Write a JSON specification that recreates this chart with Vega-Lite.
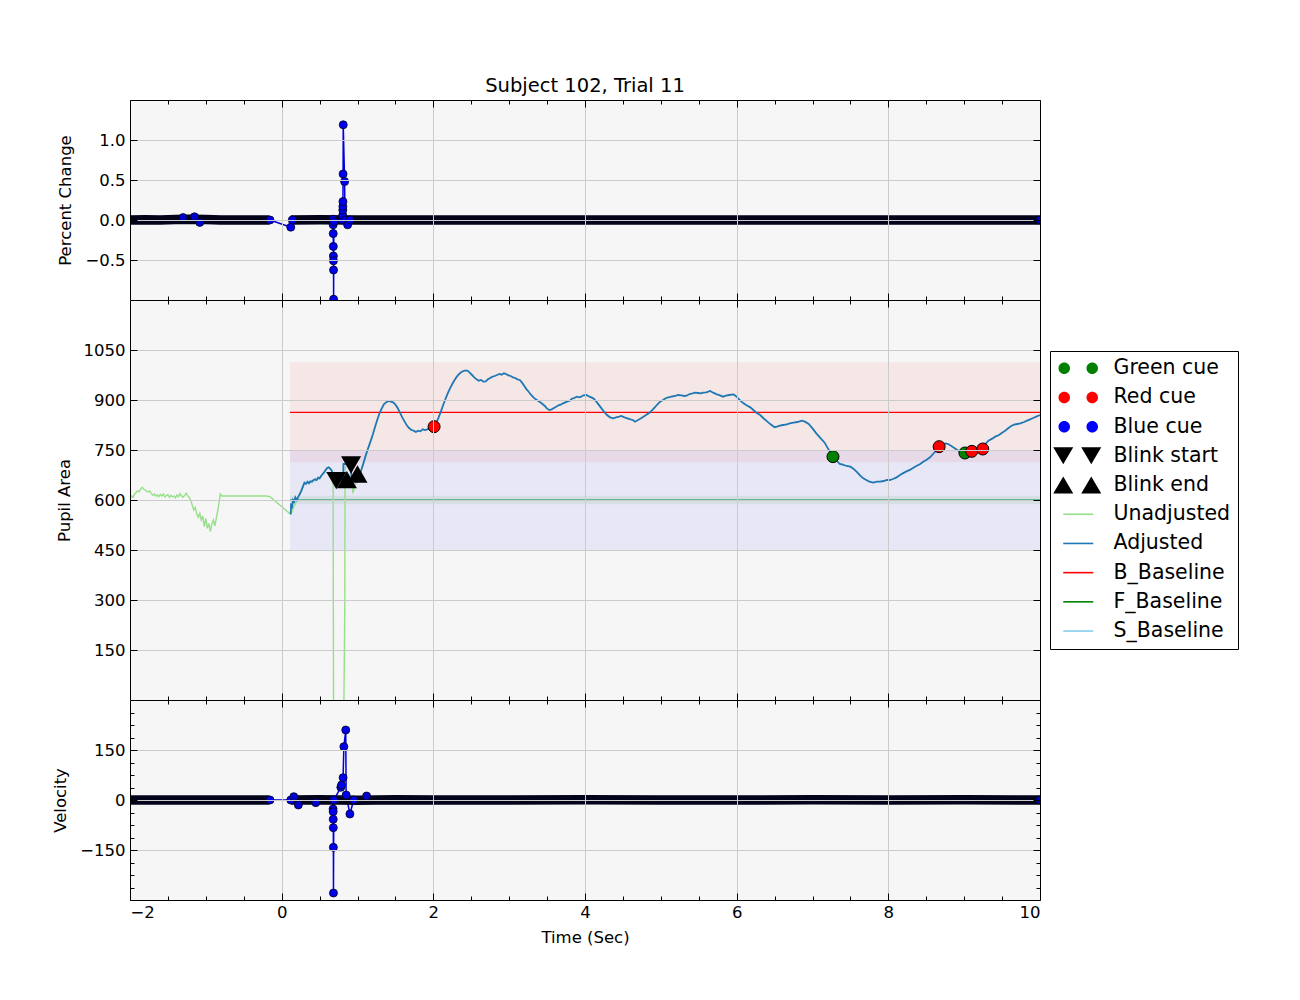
{
  "$schema": "https://vega.github.io/schema/vega-lite/v6.json",
  "padding": {"left": 52, "top": 76, "right": 5, "bottom": 5},
  "background": "white",
  "spacing": 0,
  "bounds": "flush",
  "config": {
    "font": "DejaVu Sans",
    "view": {"stroke": null, "fill": "#f6f6f6"},
    "axis": {"labelFont": "DejaVu Sans", "labelFontSize": 16.5, "labelColor": "#000", "titleFont": "DejaVu Sans", "titleFontSize": 16.5, "titleFontWeight": "normal", "titleColor": "#000", "tickColor": "#000", "tickWidth": 1, "domainColor": "#000", "domainWidth": 1, "gridColor": "#cbcbcb", "gridWidth": 1, "gridOpacity": 1}
  },
  "resolve": {"scale": {"color": "independent", "shape": "independent", "fill": "independent"}},
  "datasets": {
    "pc_band_L": [{"t": -2, "v": 0}, {"t": -1.8, "v": 0.003}, {"t": -1.6, "v": 0}, {"t": -1.4, "v": 0.005}, {"t": -1.2, "v": 0.008}, {"t": -1.0, "v": 0.005}, {"t": -0.8, "v": 0}, {"t": -0.5, "v": 0}, {"t": -0.16, "v": 0}],
    "pc_band_R": [{"t": 0.12, "v": 0}, {"t": 0.5, "v": 0.003}, {"t": 1.0, "v": 0}, {"t": 2.0, "v": 0}, {"t": 3.0, "v": 0}, {"t": 4.0, "v": 0}, {"t": 5.0, "v": 0}, {"t": 6.0, "v": 0}, {"t": 7.0, "v": 0}, {"t": 8.0, "v": 0}, {"t": 9.0, "v": 0}, {"t": 10.0, "v": 0}],
    "pc_spike": [{"t": -0.154, "v": 0.0}, {"t": 0.12, "v": -0.09}, {"t": 0.14, "v": 0.0}, {"t": 0.676, "v": 0.0}, {"t": 0.678, "v": 0.01}, {"t": 0.679, "v": -0.06}, {"t": 0.68, "v": -0.17}, {"t": 0.681, "v": -0.33}, {"t": 0.682, "v": -0.45}, {"t": 0.683, "v": -0.51}, {"t": 0.684, "v": -0.625}, {"t": 0.685, "v": -0.99}, {"t": 0.688, "v": -0.02}, {"t": 0.8, "v": 0.0}, {"t": 0.805, "v": 0.06}, {"t": 0.806, "v": 0.125}, {"t": 0.807, "v": 0.17}, {"t": 0.808, "v": 0.23}, {"t": 0.81, "v": 0.575}, {"t": 0.812, "v": 1.19}, {"t": 0.83, "v": 0.48}, {"t": 0.835, "v": 0.0}, {"t": 0.87, "v": -0.06}, {"t": 0.9, "v": 0.0}],
    "pc_extra": [{"t": -1.3, "v": 0.03}, {"t": -1.15, "v": 0.04}, {"t": -1.08, "v": -0.03}, {"t": 10.0, "v": 0.0}],
    "vel_band_L": [{"t": -2, "v": 0}, {"t": -1.0, "v": 0}, {"t": -0.16, "v": 0}],
    "vel_band_R": [{"t": 0.12, "v": 0}, {"t": 0.5, "v": 1}, {"t": 1.0, "v": -1}, {"t": 1.5, "v": 1}, {"t": 2.0, "v": 0}, {"t": 3.0, "v": 0}, {"t": 4.0, "v": 1}, {"t": 5.0, "v": 0}, {"t": 6.0, "v": 0}, {"t": 7.0, "v": 1}, {"t": 8.0, "v": 0}, {"t": 9.0, "v": 1}, {"t": 10.0, "v": 0}],
    "vel_spike": [{"t": -0.154, "v": 0}, {"t": 0.12, "v": 0}, {"t": 0.676, "v": 0}, {"t": 0.678, "v": -27}, {"t": 0.679, "v": -35}, {"t": 0.68, "v": -58}, {"t": 0.681, "v": -83}, {"t": 0.682, "v": -142}, {"t": 0.683, "v": -279}, {"t": 0.688, "v": 0}, {"t": 0.78, "v": 38}, {"t": 0.79, "v": 45}, {"t": 0.81, "v": 67}, {"t": 0.82, "v": 160}, {"t": 0.845, "v": 210}, {"t": 0.85, "v": 15}, {"t": 0.9, "v": -42}, {"t": 0.95, "v": 0}],
    "vel_extra": [{"t": 0.16, "v": 10}, {"t": 0.22, "v": -15}, {"t": 0.45, "v": -8}, {"t": 1.12, "v": 12}, {"t": 10.0, "v": 0}],
    "bands": [{"name": "B", "t0": 0.11, "t1": 10, "lo": 713, "hi": 1013}, {"name": "S", "t0": 0.11, "t1": 10, "lo": 450, "hi": 750}, {"name": "F", "t0": 0.11, "t1": 10, "lo": 587, "hi": 613}],
    "baselines": [{"name": "B_Baseline", "t0": 0.11, "t1": 10, "v": 863}, {"name": "F_Baseline", "t0": 0.11, "t1": 10, "v": 600}, {"name": "S_Baseline", "t0": 0.11, "t1": 10, "v": 600}],
    "unadjusted": [{"t": -2.0, "v": 600}, {"t": -1.98, "v": 612}, {"t": -1.96, "v": 608}, {"t": -1.94, "v": 618}, {"t": -1.92, "v": 622}, {"t": -1.9, "v": 628}, {"t": -1.88, "v": 625}, {"t": -1.86, "v": 632}, {"t": -1.84, "v": 638}, {"t": -1.82, "v": 633}, {"t": -1.8, "v": 630}, {"t": -1.78, "v": 626}, {"t": -1.76, "v": 624}, {"t": -1.74, "v": 627}, {"t": -1.72, "v": 620}, {"t": -1.7, "v": 614}, {"t": -1.68, "v": 618}, {"t": -1.66, "v": 612}, {"t": -1.64, "v": 615}, {"t": -1.62, "v": 610}, {"t": -1.6, "v": 617}, {"t": -1.58, "v": 612}, {"t": -1.56, "v": 618}, {"t": -1.54, "v": 609}, {"t": -1.52, "v": 613}, {"t": -1.5, "v": 616}, {"t": -1.48, "v": 608}, {"t": -1.46, "v": 614}, {"t": -1.44, "v": 610}, {"t": -1.42, "v": 612}, {"t": -1.4, "v": 606}, {"t": -1.38, "v": 615}, {"t": -1.36, "v": 610}, {"t": -1.34, "v": 619}, {"t": -1.32, "v": 612}, {"t": -1.3, "v": 608}, {"t": -1.28, "v": 614}, {"t": -1.26, "v": 620}, {"t": -1.24, "v": 613}, {"t": -1.22, "v": 608}, {"t": -1.2, "v": 600}, {"t": -1.18, "v": 585}, {"t": -1.16, "v": 570}, {"t": -1.14, "v": 578}, {"t": -1.12, "v": 558}, {"t": -1.1, "v": 548}, {"t": -1.08, "v": 560}, {"t": -1.06, "v": 540}, {"t": -1.04, "v": 552}, {"t": -1.02, "v": 520}, {"t": -1.0, "v": 545}, {"t": -0.98, "v": 515}, {"t": -0.96, "v": 530}, {"t": -0.94, "v": 505}, {"t": -0.92, "v": 528}, {"t": -0.9, "v": 540}, {"t": -0.88, "v": 522}, {"t": -0.86, "v": 548}, {"t": -0.84, "v": 572}, {"t": -0.82, "v": 600}, {"t": -0.81, "v": 618}, {"t": -0.79, "v": 612}, {"t": -0.5, "v": 612}, {"t": -0.2, "v": 612}, {"t": -0.154, "v": 610}, {"t": 0.119, "v": 557}, {"t": 0.2, "v": 600}, {"t": 0.3, "v": 652}, {"t": 0.4, "v": 655}, {"t": 0.5, "v": 665}, {"t": 0.6, "v": 696}, {"t": 0.62, "v": 698}, {"t": 0.66, "v": 690}, {"t": 0.675, "v": 670}, {"t": 0.679, "v": 630}, {"t": 0.681, "v": 300}, {"t": 0.684, "v": 0}, {"t": 0.69, "v": -30}, {"t": 0.82, "v": -30}, {"t": 0.833, "v": 300}, {"t": 0.835, "v": 660}, {"t": 0.84, "v": 700}, {"t": 0.87, "v": 708}, {"t": 0.91, "v": 706}, {"t": 0.925, "v": 665}, {"t": 0.94, "v": 620}, {"t": 0.96, "v": 640}, {"t": 0.98, "v": 650}, {"t": 1.0, "v": 660}, {"t": 1.05, "v": 690}, {"t": 1.1, "v": 725}, {"t": 1.2, "v": 795}],
    "adjusted": [{"t": 0.119, "v": 557}, {"t": 0.125, "v": 590}, {"t": 0.135, "v": 575}, {"t": 0.15, "v": 600}, {"t": 0.165, "v": 595}, {"t": 0.18, "v": 608}, {"t": 0.2, "v": 600}, {"t": 0.22, "v": 610}, {"t": 0.24, "v": 618}, {"t": 0.26, "v": 628}, {"t": 0.28, "v": 640}, {"t": 0.3, "v": 652}, {"t": 0.32, "v": 648}, {"t": 0.34, "v": 655}, {"t": 0.36, "v": 650}, {"t": 0.38, "v": 656}, {"t": 0.4, "v": 655}, {"t": 0.42, "v": 660}, {"t": 0.44, "v": 662}, {"t": 0.46, "v": 660}, {"t": 0.48, "v": 667}, {"t": 0.5, "v": 665}, {"t": 0.52, "v": 672}, {"t": 0.54, "v": 678}, {"t": 0.56, "v": 683}, {"t": 0.58, "v": 690}, {"t": 0.6, "v": 696}, {"t": 0.62, "v": 698}, {"t": 0.64, "v": 694}, {"t": 0.66, "v": 688}, {"t": 0.675, "v": 672}, {"t": 0.681, "v": 660}, {"t": 0.75, "v": 660}, {"t": 0.81, "v": 660}, {"t": 0.815, "v": 708}, {"t": 0.86, "v": 708}, {"t": 0.91, "v": 708}, {"t": 0.92, "v": 670}, {"t": 0.95, "v": 660}, {"t": 0.99, "v": 655}, {"t": 1.02, "v": 672}, {"t": 1.05, "v": 690}, {"t": 1.08, "v": 712}, {"t": 1.11, "v": 735}, {"t": 1.14, "v": 755}, {"t": 1.17, "v": 775}, {"t": 1.2, "v": 795}, {"t": 1.23, "v": 818}, {"t": 1.26, "v": 840}, {"t": 1.29, "v": 860}, {"t": 1.32, "v": 875}, {"t": 1.35, "v": 888}, {"t": 1.38, "v": 893}, {"t": 1.41, "v": 897}, {"t": 1.44, "v": 895}, {"t": 1.47, "v": 893}, {"t": 1.5, "v": 886}, {"t": 1.53, "v": 876}, {"t": 1.56, "v": 862}, {"t": 1.59, "v": 848}, {"t": 1.62, "v": 836}, {"t": 1.65, "v": 824}, {"t": 1.68, "v": 816}, {"t": 1.71, "v": 810}, {"t": 1.74, "v": 808}, {"t": 1.77, "v": 804}, {"t": 1.8, "v": 808}, {"t": 1.83, "v": 806}, {"t": 1.86, "v": 812}, {"t": 1.89, "v": 810}, {"t": 1.92, "v": 812}, {"t": 1.95, "v": 815}, {"t": 1.98, "v": 812}, {"t": 2.01, "v": 820}, {"t": 2.04, "v": 832}, {"t": 2.07, "v": 848}, {"t": 2.1, "v": 866}, {"t": 2.13, "v": 885}, {"t": 2.16, "v": 903}, {"t": 2.19, "v": 920}, {"t": 2.22, "v": 935}, {"t": 2.25, "v": 948}, {"t": 2.28, "v": 960}, {"t": 2.31, "v": 970}, {"t": 2.34, "v": 978}, {"t": 2.37, "v": 984}, {"t": 2.41, "v": 988}, {"t": 2.45, "v": 988}, {"t": 2.48, "v": 982}, {"t": 2.51, "v": 975}, {"t": 2.54, "v": 968}, {"t": 2.57, "v": 962}, {"t": 2.6, "v": 958}, {"t": 2.63, "v": 960}, {"t": 2.66, "v": 955}, {"t": 2.69, "v": 956}, {"t": 2.72, "v": 962}, {"t": 2.75, "v": 966}, {"t": 2.78, "v": 970}, {"t": 2.81, "v": 972}, {"t": 2.84, "v": 975}, {"t": 2.87, "v": 978}, {"t": 2.9, "v": 976}, {"t": 2.93, "v": 980}, {"t": 2.96, "v": 978}, {"t": 2.99, "v": 974}, {"t": 3.02, "v": 972}, {"t": 3.05, "v": 968}, {"t": 3.08, "v": 966}, {"t": 3.11, "v": 962}, {"t": 3.14, "v": 960}, {"t": 3.17, "v": 952}, {"t": 3.2, "v": 942}, {"t": 3.23, "v": 932}, {"t": 3.26, "v": 924}, {"t": 3.29, "v": 915}, {"t": 3.32, "v": 908}, {"t": 3.35, "v": 902}, {"t": 3.38, "v": 898}, {"t": 3.41, "v": 893}, {"t": 3.44, "v": 888}, {"t": 3.47, "v": 882}, {"t": 3.5, "v": 874}, {"t": 3.53, "v": 870}, {"t": 3.56, "v": 872}, {"t": 3.59, "v": 876}, {"t": 3.62, "v": 880}, {"t": 3.65, "v": 884}, {"t": 3.68, "v": 886}, {"t": 3.71, "v": 890}, {"t": 3.74, "v": 893}, {"t": 3.77, "v": 896}, {"t": 3.8, "v": 898}, {"t": 3.83, "v": 904}, {"t": 3.86, "v": 906}, {"t": 3.89, "v": 910}, {"t": 3.92, "v": 908}, {"t": 3.95, "v": 910}, {"t": 3.98, "v": 914}, {"t": 4.02, "v": 915}, {"t": 4.06, "v": 910}, {"t": 4.11, "v": 905}, {"t": 4.15, "v": 895}, {"t": 4.2, "v": 880}, {"t": 4.24, "v": 868}, {"t": 4.29, "v": 855}, {"t": 4.33, "v": 848}, {"t": 4.37, "v": 845}, {"t": 4.41, "v": 848}, {"t": 4.45, "v": 850}, {"t": 4.48, "v": 852}, {"t": 4.52, "v": 848}, {"t": 4.56, "v": 845}, {"t": 4.6, "v": 842}, {"t": 4.63, "v": 840}, {"t": 4.66, "v": 835}, {"t": 4.7, "v": 840}, {"t": 4.74, "v": 845}, {"t": 4.77, "v": 850}, {"t": 4.81, "v": 856}, {"t": 4.85, "v": 862}, {"t": 4.88, "v": 868}, {"t": 4.92, "v": 878}, {"t": 4.96, "v": 888}, {"t": 4.99, "v": 895}, {"t": 5.03, "v": 900}, {"t": 5.07, "v": 906}, {"t": 5.1, "v": 908}, {"t": 5.14, "v": 910}, {"t": 5.18, "v": 912}, {"t": 5.23, "v": 915}, {"t": 5.27, "v": 914}, {"t": 5.31, "v": 912}, {"t": 5.34, "v": 913}, {"t": 5.38, "v": 918}, {"t": 5.42, "v": 920}, {"t": 5.45, "v": 922}, {"t": 5.49, "v": 921}, {"t": 5.53, "v": 920}, {"t": 5.56, "v": 922}, {"t": 5.6, "v": 923}, {"t": 5.65, "v": 927}, {"t": 5.69, "v": 922}, {"t": 5.74, "v": 917}, {"t": 5.78, "v": 914}, {"t": 5.82, "v": 910}, {"t": 5.86, "v": 913}, {"t": 5.9, "v": 915}, {"t": 5.96, "v": 917}, {"t": 6.0, "v": 910}, {"t": 6.04, "v": 900}, {"t": 6.09, "v": 890}, {"t": 6.13, "v": 884}, {"t": 6.18, "v": 878}, {"t": 6.22, "v": 870}, {"t": 6.26, "v": 862}, {"t": 6.31, "v": 855}, {"t": 6.35, "v": 846}, {"t": 6.39, "v": 838}, {"t": 6.42, "v": 832}, {"t": 6.46, "v": 825}, {"t": 6.5, "v": 818}, {"t": 6.53, "v": 820}, {"t": 6.57, "v": 823}, {"t": 6.61, "v": 825}, {"t": 6.66, "v": 827}, {"t": 6.7, "v": 830}, {"t": 6.75, "v": 832}, {"t": 6.8, "v": 834}, {"t": 6.86, "v": 838}, {"t": 6.9, "v": 835}, {"t": 6.95, "v": 828}, {"t": 7.0, "v": 815}, {"t": 7.05, "v": 800}, {"t": 7.1, "v": 787}, {"t": 7.16, "v": 772}, {"t": 7.21, "v": 752}, {"t": 7.27, "v": 731}, {"t": 7.31, "v": 720}, {"t": 7.36, "v": 708}, {"t": 7.4, "v": 706}, {"t": 7.45, "v": 702}, {"t": 7.5, "v": 700}, {"t": 7.55, "v": 692}, {"t": 7.59, "v": 683}, {"t": 7.63, "v": 673}, {"t": 7.67, "v": 665}, {"t": 7.71, "v": 660}, {"t": 7.75, "v": 655}, {"t": 7.8, "v": 652}, {"t": 7.85, "v": 655}, {"t": 7.89, "v": 655}, {"t": 7.94, "v": 657}, {"t": 7.98, "v": 660}, {"t": 8.02, "v": 660}, {"t": 8.06, "v": 663}, {"t": 8.11, "v": 668}, {"t": 8.15, "v": 674}, {"t": 8.19, "v": 680}, {"t": 8.24, "v": 686}, {"t": 8.29, "v": 691}, {"t": 8.33, "v": 697}, {"t": 8.37, "v": 702}, {"t": 8.42, "v": 708}, {"t": 8.46, "v": 715}, {"t": 8.5, "v": 720}, {"t": 8.55, "v": 728}, {"t": 8.59, "v": 738}, {"t": 8.63, "v": 748}, {"t": 8.67, "v": 759}, {"t": 8.71, "v": 766}, {"t": 8.75, "v": 770}, {"t": 8.79, "v": 768}, {"t": 8.83, "v": 762}, {"t": 8.87, "v": 756}, {"t": 8.91, "v": 750}, {"t": 8.95, "v": 745}, {"t": 9.01, "v": 741}, {"t": 9.06, "v": 742}, {"t": 9.1, "v": 746}, {"t": 9.15, "v": 740}, {"t": 9.2, "v": 745}, {"t": 9.24, "v": 753}, {"t": 9.28, "v": 768}, {"t": 9.32, "v": 778}, {"t": 9.37, "v": 784}, {"t": 9.41, "v": 790}, {"t": 9.46, "v": 795}, {"t": 9.5, "v": 802}, {"t": 9.54, "v": 808}, {"t": 9.58, "v": 815}, {"t": 9.62, "v": 822}, {"t": 9.66, "v": 826}, {"t": 9.7, "v": 828}, {"t": 9.74, "v": 830}, {"t": 9.79, "v": 834}, {"t": 9.83, "v": 838}, {"t": 9.87, "v": 842}, {"t": 9.91, "v": 846}, {"t": 9.95, "v": 850}, {"t": 10.0, "v": 855}],
    "cues": [{"cue": "Red cue", "t": 2.01, "v": 820}, {"cue": "Green cue", "t": 7.27, "v": 730}, {"cue": "Red cue", "t": 8.67, "v": 760}, {"cue": "Green cue", "t": 9.01, "v": 741}, {"cue": "Red cue", "t": 9.1, "v": 746}, {"cue": "Red cue", "t": 9.245, "v": 753}],
    "blinks": [{"kind": "Blink start", "t": 0.72, "v": 658}, {"kind": "Blink start", "t": 0.915, "v": 705}, {"kind": "Blink end", "t": 0.86, "v": 661}, {"kind": "Blink end", "t": 1.0, "v": 678}],
    "legend_items": [{"series": "Green cue", "t": -50, "v": 0}, {"series": "Red cue", "t": -50, "v": 0}, {"series": "Blue cue", "t": -50, "v": 0}, {"series": "Blink start", "t": -50, "v": 0}, {"series": "Blink end", "t": -50, "v": 0}, {"series": "Unadjusted", "t": -50, "v": 0}, {"series": "Adjusted", "t": -50, "v": 0}, {"series": "B_Baseline", "t": -50, "v": 0}, {"series": "F_Baseline", "t": -50, "v": 0}, {"series": "S_Baseline", "t": -50, "v": 0}]
  },
  "vconcat": [
    {
      "width": 910, "height": 200,
      "title": {"text": "Subject 102, Trial 11", "fontSize": 19.5, "fontWeight": "normal", "font": "DejaVu Sans", "color": "#000", "frame": "group", "anchor": "middle", "offset": 3},
      "resolve": {"axis": {"x": "independent", "y": "independent"}},
      "layer": [
        {"data": {"name": "pc_spike"}, "mark": {"type": "line", "color": "#0000dd", "strokeWidth": 1.5, "clip": true},
         "encoding": {
           "x": {"field": "t", "type": "quantitative", "scale": {"domain": [-2, 10], "nice": false, "zero": false}, "axis": {"orient": "bottom", "values": [-2, 0, 2, 4, 6, 8, 10], "labels": false, "title": null, "grid": true, "tickSize": -7, "domain": true, "zindex": 1}},
           "y": {"field": "v", "type": "quantitative", "scale": {"domain": [-1, 1.5], "nice": false, "zero": false}, "axis": {"orient": "left", "values": [-0.5, 0, 0.5, 1], "format": ".1f", "title": "Percent Change", "grid": true, "tickSize": -7, "labelPadding": 12, "titlePadding": 11, "domain": true, "zindex": 1}}}},
        {"data": {"name": "pc_band_L"}, "mark": {"type": "line", "color": "#03031c", "strokeWidth": 9.5},
         "encoding": {
           "x": {"field": "t", "type": "quantitative", "scale": {"domain": [-2, 10], "nice": false, "zero": false}, "axis": {"orient": "top", "values": [-2, 0, 2, 4, 6, 8, 10], "labels": false, "title": null, "grid": false, "tickSize": -7, "domain": true, "zindex": 1}},
           "y": {"field": "v", "type": "quantitative", "scale": {"domain": [-1, 1.5], "nice": false, "zero": false}, "axis": {"orient": "right", "values": [-0.5, 0, 0.5, 1], "labels": false, "title": null, "grid": false, "tickSize": -7, "domain": true, "zindex": 1}}}},
        {"data": {"name": "pc_band_R"}, "mark": {"type": "line", "color": "#03031c", "strokeWidth": 9.5},
         "encoding": {
           "x": {"field": "t", "type": "quantitative", "scale": {"domain": [-2, 10], "nice": false, "zero": false}, "axis": {"orient": "bottom", "values": [-1.5, -1, -0.5, 0.5, 1, 1.5, 2.5, 3, 3.5, 4.5, 5, 5.5, 6.5, 7, 7.5, 8.5, 9, 9.5], "labels": false, "title": null, "grid": false, "tickSize": -4, "domain": false, "zindex": 1}},
           "y": {"field": "v", "type": "quantitative", "scale": {"domain": [-1, 1.5], "nice": false, "zero": false}, "axis": null}}},
        {"data": {"name": "pc_spike"}, "mark": {"type": "point", "filled": true, "fill": "#0000ee", "stroke": "#000022", "strokeWidth": 0.8, "size": 64, "opacity": 1, "clip": true},
         "encoding": {
           "x": {"field": "t", "type": "quantitative", "scale": {"domain": [-2, 10], "nice": false, "zero": false}, "axis": {"orient": "top", "values": [-1.5, -1, -0.5, 0.5, 1, 1.5, 2.5, 3, 3.5, 4.5, 5, 5.5, 6.5, 7, 7.5, 8.5, 9, 9.5], "labels": false, "title": null, "grid": false, "tickSize": -4, "domain": false, "zindex": 1}},
           "y": {"field": "v", "type": "quantitative", "scale": {"domain": [-1, 1.5], "nice": false, "zero": false}, "axis": null}}},
        {"data": {"name": "pc_extra"}, "mark": {"type": "point", "filled": true, "fill": "#0000cc", "stroke": "#000022", "strokeWidth": 0.8, "size": 64, "opacity": 1, "clip": true},
         "encoding": {
           "x": {"field": "t", "type": "quantitative", "scale": {"domain": [-2, 10], "nice": false, "zero": false}, "axis": null},
           "y": {"field": "v", "type": "quantitative", "scale": {"domain": [-1, 1.5], "nice": false, "zero": false}, "axis": null}}}
      ]
    },
    {
      "width": 910, "height": 400,
      "resolve": {"axis": {"x": "independent", "y": "independent"}},
      "layer": [
        {"data": {"name": "bands"}, "transform": [{"filter": "datum.name == 'B'"}], "mark": {"type": "rect", "color": "#ff0000", "opacity": 0.06},
         "encoding": {
           "x": {"field": "t0", "type": "quantitative", "scale": {"domain": [-2, 10], "nice": false, "zero": false}, "axis": {"orient": "bottom", "values": [-2, 0, 2, 4, 6, 8, 10], "labels": false, "title": null, "grid": true, "tickSize": -7, "domain": true, "zindex": 1}},
           "x2": {"field": "t1"},
           "y": {"field": "lo", "type": "quantitative", "scale": {"domain": [0, 1200], "nice": false, "zero": false}, "axis": {"orient": "left", "values": [150, 300, 450, 600, 750, 900, 1050], "format": "d", "title": "Pupil Area", "grid": true, "tickSize": -7, "labelPadding": 12, "titlePadding": 11, "domain": true, "zindex": 1}},
           "y2": {"field": "hi"}}},
        {"data": {"name": "bands"}, "transform": [{"filter": "datum.name == 'S'"}], "mark": {"type": "rect", "color": "#0000ff", "opacity": 0.06},
         "encoding": {
           "x": {"field": "t0", "type": "quantitative", "scale": {"domain": [-2, 10], "nice": false, "zero": false}, "axis": {"orient": "top", "values": [-2, 0, 2, 4, 6, 8, 10], "labels": false, "title": null, "grid": false, "tickSize": -7, "domain": true, "zindex": 1}},
           "x2": {"field": "t1"},
           "y": {"field": "lo", "type": "quantitative", "scale": {"domain": [0, 1200], "nice": false, "zero": false}, "axis": {"orient": "right", "values": [150, 300, 450, 600, 750, 900, 1050], "labels": false, "title": null, "grid": false, "tickSize": -7, "domain": true, "zindex": 1}},
           "y2": {"field": "hi"}}},
        {"data": {"name": "bands"}, "transform": [{"filter": "datum.name == 'F'"}], "mark": {"type": "rect", "color": "#008000", "opacity": 0.07},
         "encoding": {
           "x": {"field": "t0", "type": "quantitative", "scale": {"domain": [-2, 10], "nice": false, "zero": false}, "axis": {"orient": "bottom", "values": [-1.5, -1, -0.5, 0.5, 1, 1.5, 2.5, 3, 3.5, 4.5, 5, 5.5, 6.5, 7, 7.5, 8.5, 9, 9.5], "labels": false, "title": null, "grid": false, "tickSize": -4, "domain": false, "zindex": 1}},
           "x2": {"field": "t1"},
           "y": {"field": "lo", "type": "quantitative", "scale": {"domain": [0, 1200], "nice": false, "zero": false}, "axis": null},
           "y2": {"field": "hi"}}},
        {"data": {"name": "baselines"}, "transform": [{"filter": "datum.name == 'B_Baseline'"}], "mark": {"type": "rule", "color": "#ff0000", "strokeWidth": 1.4},
         "encoding": {
           "x": {"field": "t0", "type": "quantitative", "scale": {"domain": [-2, 10], "nice": false, "zero": false}, "axis": {"orient": "top", "values": [-1.5, -1, -0.5, 0.5, 1, 1.5, 2.5, 3, 3.5, 4.5, 5, 5.5, 6.5, 7, 7.5, 8.5, 9, 9.5], "labels": false, "title": null, "grid": false, "tickSize": -4, "domain": false, "zindex": 1}},
           "x2": {"field": "t1"},
           "y": {"field": "v", "type": "quantitative", "scale": {"domain": [0, 1200], "nice": false, "zero": false}, "axis": null}}},
        {"data": {"name": "baselines"}, "transform": [{"filter": "datum.name == 'S_Baseline'"}], "mark": {"type": "rule", "color": "#87ceeb", "strokeWidth": 1.6, "opacity": 1},
         "encoding": {
           "x": {"field": "t0", "type": "quantitative", "scale": {"domain": [-2, 10], "nice": false, "zero": false}, "axis": null},
           "x2": {"field": "t1"},
           "y": {"field": "v", "type": "quantitative", "scale": {"domain": [0, 1200], "nice": false, "zero": false}, "axis": null}}},
        {"data": {"name": "baselines"}, "transform": [{"filter": "datum.name == 'F_Baseline'"}], "mark": {"type": "rule", "color": "#008000", "strokeWidth": 1.6, "opacity": 0.45},
         "encoding": {
           "x": {"field": "t0", "type": "quantitative", "scale": {"domain": [-2, 10], "nice": false, "zero": false}, "axis": null},
           "x2": {"field": "t1"},
           "y": {"field": "v", "type": "quantitative", "scale": {"domain": [0, 1200], "nice": false, "zero": false}, "axis": null}}},
        {"data": {"name": "unadjusted"}, "mark": {"type": "line", "color": "#98df8a", "strokeWidth": 1.4, "clip": true},
         "encoding": {
           "x": {"field": "t", "type": "quantitative", "scale": {"domain": [-2, 10], "nice": false, "zero": false}, "axis": null},
           "y": {"field": "v", "type": "quantitative", "scale": {"domain": [0, 1200], "nice": false, "zero": false}, "axis": null}}},
        {"data": {"name": "adjusted"}, "mark": {"type": "line", "color": "#1f77b4", "strokeWidth": 1.8, "clip": true},
         "encoding": {
           "x": {"field": "t", "type": "quantitative", "scale": {"domain": [-2, 10], "nice": false, "zero": false}, "axis": null},
           "y": {"field": "v", "type": "quantitative", "scale": {"domain": [0, 1200], "nice": false, "zero": false}, "axis": null}}},
        {"data": {"name": "cues"}, "mark": {"type": "point", "shape": "circle", "filled": true, "stroke": "#000", "strokeWidth": 1, "size": 144, "opacity": 1},
         "encoding": {
           "x": {"field": "t", "type": "quantitative", "scale": {"domain": [-2, 10], "nice": false, "zero": false}, "axis": null},
           "y": {"field": "v", "type": "quantitative", "scale": {"domain": [0, 1200], "nice": false, "zero": false}, "axis": null},
           "fill": {"field": "cue", "type": "nominal", "scale": {"domain": ["Green cue", "Red cue"], "range": ["#008000", "#ff0000"]}, "legend": null}}},
        {"data": {"name": "blinks"}, "transform": [{"filter": "datum.kind == 'Blink start'"}], "mark": {"type": "point", "shape": "triangle-down", "filled": true, "color": "#000", "size": 400, "opacity": 1},
         "encoding": {
           "x": {"field": "t", "type": "quantitative", "scale": {"domain": [-2, 10], "nice": false, "zero": false}, "axis": null},
           "y": {"field": "v", "type": "quantitative", "scale": {"domain": [0, 1200], "nice": false, "zero": false}, "axis": null}}},
        {"data": {"name": "blinks"}, "transform": [{"filter": "datum.kind == 'Blink end'"}], "mark": {"type": "point", "shape": "triangle-up", "filled": true, "color": "#000", "size": 400, "opacity": 1},
         "encoding": {
           "x": {"field": "t", "type": "quantitative", "scale": {"domain": [-2, 10], "nice": false, "zero": false}, "axis": null},
           "y": {"field": "v", "type": "quantitative", "scale": {"domain": [0, 1200], "nice": false, "zero": false}, "axis": null}}},
        {"data": {"name": "legend_items"}, "mark": {"type": "point", "filled": true, "opacity": 1, "clip": true},
         "encoding": {
           "x": {"field": "t", "type": "quantitative", "scale": {"domain": [-2, 10], "nice": false, "zero": false}, "axis": null},
           "y": {"field": "v", "type": "quantitative", "scale": {"domain": [0, 1200], "nice": false, "zero": false}, "axis": null},
           "color": {"field": "series", "type": "nominal",
             "scale": {"domain": ["Green cue", "Red cue", "Blue cue", "Blink start", "Blink end", "Unadjusted", "Adjusted", "B_Baseline", "F_Baseline", "S_Baseline"], "range": ["#008000", "#ff0000", "#0000ff", "#000000", "#000000", "#98df8a", "#1f77b4", "#ff0000", "#008000", "#87ceeb"]},
             "legend": {"title": null, "orient": "none", "legendX": 920, "legendY": 51, "padding": 7, "strokeColor": "#000", "fillColor": "#ffffff", "cornerRadius": 0, "labelFont": "DejaVu Sans", "labelFontSize": 20.5, "labelColor": "#000", "labelLimit": 400, "symbolSize": 100, "labelOffset": 36, "rowPadding": 8.2, "symbolStrokeWidth": 0}},
           "shape": {"field": "series", "type": "nominal",
             "scale": {"domain": ["Green cue", "Red cue", "Blue cue", "Blink start", "Blink end", "Unadjusted", "Adjusted", "B_Baseline", "F_Baseline", "S_Baseline"],
               "range": [
                 "M -1.75 0 A 1.15 1.15 0 1 0 0.55 0 A 1.15 1.15 0 1 0 -1.75 0 Z M 3.85 0 A 1.15 1.15 0 1 0 6.15 0 A 1.15 1.15 0 1 0 3.85 0 Z",
                 "M -1.75 0 A 1.15 1.15 0 1 0 0.55 0 A 1.15 1.15 0 1 0 -1.75 0 Z M 3.85 0 A 1.15 1.15 0 1 0 6.15 0 A 1.15 1.15 0 1 0 3.85 0 Z",
                 "M -1.75 0 A 1.15 1.15 0 1 0 0.55 0 A 1.15 1.15 0 1 0 -1.75 0 Z M 3.85 0 A 1.15 1.15 0 1 0 6.15 0 A 1.15 1.15 0 1 0 3.85 0 Z",
                 "M -2.8 -1.7 L 1.2 -1.7 L -0.8 1.7 Z M 2.8 -1.7 L 6.8 -1.7 L 4.8 1.7 Z",
                 "M -2.8 1.7 L 1.2 1.7 L -0.8 -1.7 Z M 2.8 1.7 L 6.8 1.7 L 4.8 -1.7 Z",
                 "M -0.8 -0.16 L 5.2 -0.16 L 5.2 0.16 L -0.8 0.16 Z",
                 "M -0.8 -0.16 L 5.2 -0.16 L 5.2 0.16 L -0.8 0.16 Z",
                 "M -0.8 -0.16 L 5.2 -0.16 L 5.2 0.16 L -0.8 0.16 Z",
                 "M -0.8 -0.16 L 5.2 -0.16 L 5.2 0.16 L -0.8 0.16 Z",
                 "M -0.8 -0.16 L 5.2 -0.16 L 5.2 0.16 L -0.8 0.16 Z"]},
             "legend": {"title": null, "orient": "none", "legendX": 920, "legendY": 51, "padding": 7, "strokeColor": "#000", "fillColor": "#ffffff", "cornerRadius": 0, "labelFont": "DejaVu Sans", "labelFontSize": 20.5, "labelColor": "#000", "labelLimit": 400, "symbolSize": 100, "labelOffset": 36, "rowPadding": 8.2, "symbolStrokeWidth": 0}}}}
      ]
    },
    {
      "width": 910, "height": 200,
      "resolve": {"axis": {"x": "independent", "y": "independent"}},
      "layer": [
        {"data": {"name": "vel_spike"}, "mark": {"type": "line", "color": "#0000dd", "strokeWidth": 1.5, "clip": true},
         "encoding": {
           "x": {"field": "t", "type": "quantitative", "scale": {"domain": [-2, 10], "nice": false, "zero": false}, "axis": {"orient": "bottom", "values": [-2, 0, 2, 4, 6, 8, 10], "labels": true, "labelPadding": 11, "title": "Time (Sec)", "titlePadding": 9, "grid": true, "tickSize": -7, "domain": true, "zindex": 1}},
           "y": {"field": "v", "type": "quantitative", "scale": {"domain": [-300, 300], "nice": false, "zero": false}, "axis": {"orient": "left", "values": [-150, 0, 150], "format": "d", "title": "Velocity", "grid": true, "tickSize": -7, "labelPadding": 12, "titlePadding": 11, "domain": true, "zindex": 1}}}},
        {"data": {"name": "vel_band_L"}, "mark": {"type": "line", "color": "#03031c", "strokeWidth": 9.5},
         "encoding": {
           "x": {"field": "t", "type": "quantitative", "scale": {"domain": [-2, 10], "nice": false, "zero": false}, "axis": {"orient": "top", "values": [-2, 0, 2, 4, 6, 8, 10], "labels": false, "title": null, "grid": false, "tickSize": -7, "domain": true, "zindex": 1}},
           "y": {"field": "v", "type": "quantitative", "scale": {"domain": [-300, 300], "nice": false, "zero": false}, "axis": {"orient": "right", "values": [-150, 0, 150], "labels": false, "title": null, "grid": false, "tickSize": -7, "domain": true, "zindex": 1}}}},
        {"data": {"name": "vel_band_R"}, "mark": {"type": "line", "color": "#03031c", "strokeWidth": 9.5},
         "encoding": {
           "x": {"field": "t", "type": "quantitative", "scale": {"domain": [-2, 10], "nice": false, "zero": false}, "axis": {"orient": "bottom", "values": [-1.5, -1, -0.5, 0.5, 1, 1.5, 2.5, 3, 3.5, 4.5, 5, 5.5, 6.5, 7, 7.5, 8.5, 9, 9.5], "labels": false, "title": null, "grid": false, "tickSize": -4, "domain": false, "zindex": 1}},
           "y": {"field": "v", "type": "quantitative", "scale": {"domain": [-300, 300], "nice": false, "zero": false}, "axis": {"orient": "left", "values": [-262.5, -225, -187.5, -112.5, -75, -37.5, 37.5, 75, 112.5, 187.5, 225, 262.5], "labels": false, "title": null, "grid": false, "tickSize": -4, "domain": false, "zindex": 1}}}},
        {"data": {"name": "vel_spike"}, "mark": {"type": "point", "filled": true, "fill": "#0000ee", "stroke": "#000022", "strokeWidth": 0.8, "size": 64, "opacity": 1, "clip": true},
         "encoding": {
           "x": {"field": "t", "type": "quantitative", "scale": {"domain": [-2, 10], "nice": false, "zero": false}, "axis": {"orient": "top", "values": [-1.5, -1, -0.5, 0.5, 1, 1.5, 2.5, 3, 3.5, 4.5, 5, 5.5, 6.5, 7, 7.5, 8.5, 9, 9.5], "labels": false, "title": null, "grid": false, "tickSize": -4, "domain": false, "zindex": 1}},
           "y": {"field": "v", "type": "quantitative", "scale": {"domain": [-300, 300], "nice": false, "zero": false}, "axis": {"orient": "right", "values": [-262.5, -225, -187.5, -112.5, -75, -37.5, 37.5, 75, 112.5, 187.5, 225, 262.5], "labels": false, "title": null, "grid": false, "tickSize": -4, "domain": false, "zindex": 1}}}},
        {"data": {"name": "vel_extra"}, "mark": {"type": "point", "filled": true, "fill": "#0000cc", "stroke": "#000022", "strokeWidth": 0.8, "size": 64, "opacity": 1, "clip": true},
         "encoding": {
           "x": {"field": "t", "type": "quantitative", "scale": {"domain": [-2, 10], "nice": false, "zero": false}, "axis": null},
           "y": {"field": "v", "type": "quantitative", "scale": {"domain": [-300, 300], "nice": false, "zero": false}, "axis": null}}}
      ]
    }
  ]
}
